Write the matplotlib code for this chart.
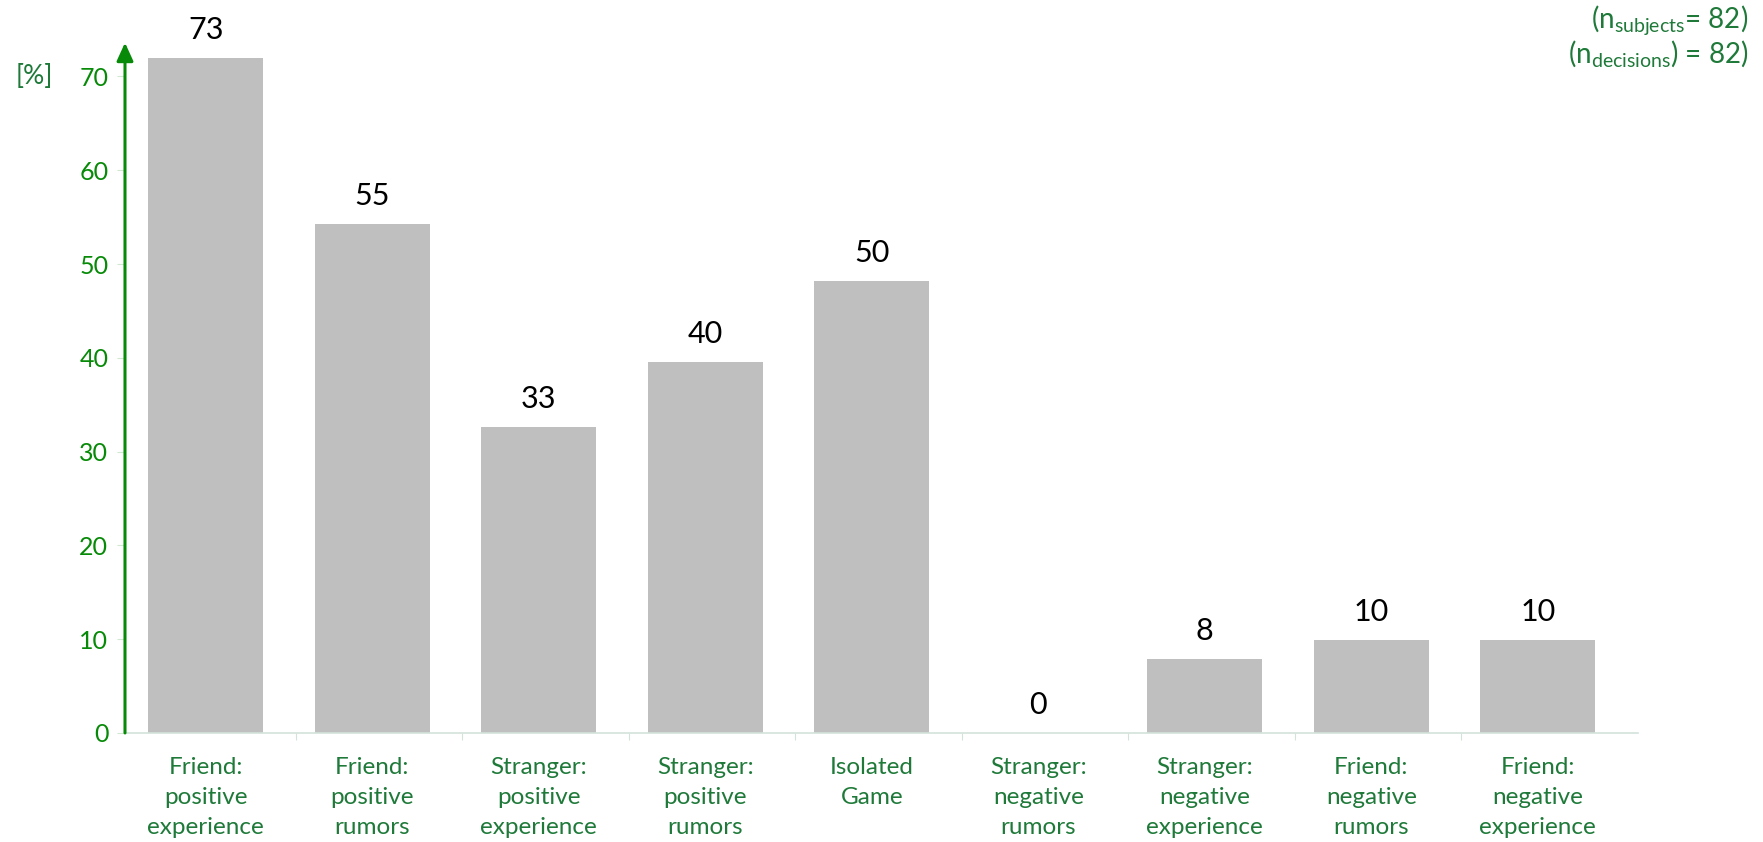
import matplotlib
matplotlib.use("Agg")
import matplotlib.pyplot as plt
import numpy as np

plt.rcParams['font.family'] = ['Lato', 'DejaVu Sans']
plt.rcParams['mathtext.fontset'] = 'custom'
plt.rcParams['mathtext.rm'] = 'Lato'

# data
categories = ['Friend:\npositive\nexperience', 'Friend:\npositive\nrumors',
              'Stranger:\npositive\nexperience', 'Stranger:\npositive\nrumors',
              'Isolated\nGame', 'Stranger:\nnegative\nrumors',
              'Stranger:\nnegative\nexperience', 'Friend:\nnegative\nrumors',
              'Friend:\nnegative\nexperience']
bar_heights = [72.0, 54.3, 32.6, 39.6, 48.2, 0.0, 7.9, 9.95, 9.9]
value_labels = ['73', '55', '33', '40', '50', '0', '8', '10', '10']
yticks = [0, 10, 20, 30, 40, 50, 60, 70]

bright_green = '#078a07'
dark_green = '#1f7a3a'
bar_color = '#bfbfbf'

fig = plt.figure(figsize=(17.63, 8.42), dpi=100)
ax = fig.add_axes([0.0709, 0.1295, 0.858, 0.8198])

x = np.arange(len(categories))
ax.bar(x, bar_heights, width=0.69, color=bar_color, zorder=2)

for xi, h, lab in zip(x, bar_heights, value_labels):
    ax.annotate(lab, (xi, h), xytext=(0, 10), textcoords='offset points',
                ha='center', va='bottom', fontsize=22, color='black')

ax.set_xlim(-0.485, 8.6)
ax.set_ylim(0, 73.6)

# spines
for s in ['top', 'right', 'left']:
    ax.spines[s].set_visible(False)
ax.spines['bottom'].set_color('#d2e3da')
ax.spines['bottom'].set_linewidth(1.2)

# green arrow as the y axis
ax.annotate('', xy=(0, 1.0), xytext=(0, 0), xycoords='axes fraction',
            arrowprops=dict(arrowstyle='-|>,head_length=1.1,head_width=0.5',
                            color=bright_green, lw=2.2, shrinkA=0, shrinkB=0))

ax.set_yticks(yticks)
ax.tick_params(axis='y', length=6, width=0.8, color='#cfe8cf', pad=6,
               labelsize=18, labelcolor=bright_green)

ax.set_xticks(x)
ax.set_xticklabels(categories, fontsize=17.5, color=dark_green, linespacing=1.55)
ax.tick_params(axis='x', length=0, pad=17)
ax.set_xticks(x[:-1] + 0.54, minor=True)
ax.tick_params(axis='x', which='minor', length=5, width=0.8, color='#d2e3da')

fig.text(16 / 1763, 1 - 77 / 842, '[%]', fontsize=19, color=dark_green,
         ha='left', va='center')

fig.text(1748 / 1763, 1 - 28 / 842, r'(n$_{\mathrm{subjects}}$= 82)', fontsize=20,
         color=dark_green, ha='right', va='baseline')
fig.text(1748 / 1763, 1 - 63 / 842, r'(n$_{\mathrm{decisions}}$) = 82)', fontsize=20,
         color=dark_green, ha='right', va='baseline')

fig.savefig('out.png', dpi=100)
